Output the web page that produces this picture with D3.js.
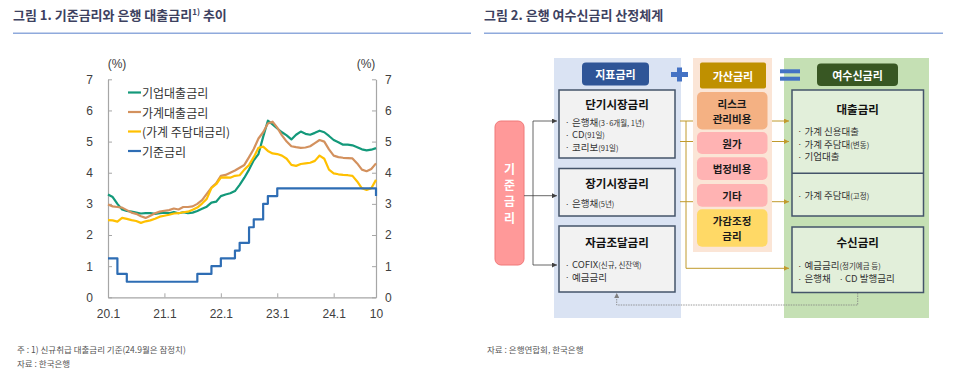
<!DOCTYPE html>
<html>
<head>
<meta charset="utf-8">
<script src="https://cdn.jsdelivr.net/npm/d3@7"></script>
<style>
  body { margin: 0; background: #fff; }
  svg text { font-family: "Noto Sans CJK KR", "Noto Sans", sans-serif; }
  .num { font-family: "Liberation Sans", Arial, sans-serif !important; }
</style>
</head>
<body>
<svg id="chart" width="960" height="379"></svg>
<script>
// ---- chart 1 data (monthly, 20.1 ~ 24.10) ----
const months = [
  '20.1','20.2','20.3','20.4','20.5','20.6','20.7','20.8','20.9','20.10','20.11','20.12',
  '21.1','21.2','21.3','21.4','21.5','21.6','21.7','21.8','21.9','21.10','21.11','21.12',
  '22.1','22.2','22.3','22.4','22.5','22.6','22.7','22.8','22.9','22.10','22.11','22.12',
  '23.1','23.2','23.3','23.4','23.5','23.6','23.7','23.8','23.9','23.10','23.11','23.12',
  '24.1','24.2','24.3','24.4','24.5','24.6','24.7','24.8','24.9','24.10'
];
const corpRate = [
  3.30, 3.22, 3.00, 2.82, 2.77, 2.75, 2.72, 2.69, 2.70, 2.70, 2.68, 2.70,
  2.72, 2.70, 2.74, 2.70, 2.73, 2.70, 2.72, 2.77, 2.84, 2.91, 3.04, 3.07,
  3.25, 3.30, 3.34, 3.41, 3.61, 3.84, 4.10, 4.40, 4.60, 5.15, 5.67, 5.55,
  5.42, 5.30, 5.20, 5.07, 5.22, 5.32, 5.25, 5.22, 5.28, 5.35, 5.30, 5.18,
  5.05, 4.98, 4.90, 4.90, 4.88, 4.82, 4.75, 4.72, 4.74, 4.79
];
const householdRate = [
  2.98, 2.92, 2.90, 2.88, 2.80, 2.72, 2.68, 2.60, 2.55, 2.62, 2.70, 2.75,
  2.78, 2.80, 2.85, 2.82, 2.90, 2.90, 2.92, 3.00, 3.12, 3.32, 3.52, 3.66,
  3.90, 3.93, 4.00, 4.07, 4.16, 4.25, 4.50, 4.76, 5.10, 5.30, 5.58, 5.64,
  5.45, 5.20, 5.00, 4.85, 4.82, 4.80, 4.81, 4.85, 4.95, 5.05, 5.00, 4.75,
  4.55, 4.50, 4.48, 4.47, 4.46, 4.30, 4.10, 4.05, 4.12, 4.30
];
const mortgageRate = [
  2.48, 2.47, 2.43, 2.55, 2.52, 2.48, 2.45, 2.39, 2.44, 2.47, 2.52, 2.59,
  2.62, 2.65, 2.69, 2.70, 2.73, 2.75, 2.81, 2.88, 3.01, 3.16, 3.51, 3.63,
  3.84, 3.85, 3.84, 3.90, 3.92, 4.10, 4.25, 4.50, 4.80, 4.84, 4.70, 4.62,
  4.60, 4.55, 4.45, 4.25, 4.22, 4.28, 4.30, 4.32, 4.38, 4.55, 4.45, 4.10,
  3.98, 3.95, 3.93, 3.92, 3.90, 3.72, 3.50, 3.45, 3.50, 3.77
];
const baseRate = [
  1.25, 1.25, 0.75, 0.75, 0.50, 0.50, 0.50, 0.50, 0.50, 0.50, 0.50, 0.50,
  0.50, 0.50, 0.50, 0.50, 0.50, 0.50, 0.50, 0.75, 0.75, 0.75, 1.00, 1.00,
  1.25, 1.25, 1.25, 1.50, 1.75, 1.75, 2.25, 2.50, 2.50, 3.00, 3.25, 3.25,
  3.50, 3.50, 3.50, 3.50, 3.50, 3.50, 3.50, 3.50, 3.50, 3.50, 3.50, 3.50,
  3.50, 3.50, 3.50, 3.50, 3.50, 3.50, 3.50, 3.50, 3.50, 3.25
];
const tickMonths = ['20.1','21.1','22.1','23.1','24.1','24.10'];
const tickLabels = ['20.1','21.1','22.1','23.1','24.1','10'];
const yTicks = [0, 1, 2, 3, 4, 5, 6, 7];
const seriesNames = ['기업대출금리', '가계대출금리', '(가계 주담대금리)', '기준금리'];
const seriesColors = ['#13997a', '#d3915e', '#ffc000', '#2e6db4'];

// ---- chart 2 texts ----
const indexRates = [
  { title: '단기시장금리', items: [['은행채', '(3·6개월, 1년)'], ['CD', '(91일)'], ['코리보', '(91일)']] },
  { title: '장기시장금리', items: [['은행채', '(5년)']] },
  { title: '자금조달금리', items: [['COFIX', '(신규, 신잔액)'], ['예금금리', '']] }
];
const spreadItems = [['리스크', '관리비용'], ['원가'], ['법정비용'], ['기타'], ['가감조정', '금리']];
const loanItems = [['가계 신용대출', ''], ['가계 주담대', '(변동)'], ['기업대출', '']];
const loanFixedItems = [['가계 주담대', '(고정)']];
const depositItems = [['예금금리', '(정기예금 등)']];

const svg = d3.select('#chart');

// ---- headings ----
const headings = [
  { x: 13, x2: 471, text: '그림 1. 기준금리와 은행 대출금리', sup: '1)', tail: ' 추이' },
  { x: 484, x2: 943, text: '그림 2. 은행 여수신금리 산정체계', sup: '', tail: '' }
];
headings.forEach(h => {
  const t = svg.append('text').attr('x', h.x).attr('y', 20)
    .style('font-size', '13px').style('font-weight', 'bold').style('fill', '#3d4160');
  t.append('tspan').text(h.text);
  if (h.sup) {
    t.append('tspan').attr('dy', -5).style('font-size', '8px').text(h.sup);
    t.append('tspan').attr('dy', 5).text(h.tail);
  }
  svg.append('line').attr('x1', h.x).attr('x2', h.x2).attr('y1', 33.3).attr('y2', 33.3)
    .attr('stroke', '#8faadc').attr('stroke-width', 1.5);
});

// ---- chart 1 ----
const x = d3.scalePoint().domain(months).range([108, 376]);
const y = d3.scaleLinear().domain([0, 7]).range([297.3, 79.3]);

const axisColor = '#a6a6a6';
function styleAxis(g) {
  g.selectAll('path, line').attr('stroke', axisColor);
  g.selectAll('text').attr('class', 'num').style('font-size', '12px').style('fill', '#404040');
}
svg.append('g').attr('transform', 'translate(108,0)')
  .call(d3.axisLeft(y).tickValues(yTicks).tickFormat(d3.format('d'))
    .tickSizeInner(-4).tickSizeOuter(0).tickPadding(15))
  .call(styleAxis);
svg.append('g').attr('transform', 'translate(376,0)')
  .call(d3.axisRight(y).tickValues(yTicks).tickFormat(d3.format('d'))
    .tickSizeInner(-4).tickSizeOuter(0).tickPadding(9))
  .call(styleAxis);
svg.append('g').attr('transform', 'translate(0,297.3)')
  .call(d3.axisBottom(x).tickValues(tickMonths).tickFormat((d, i) => tickLabels[i])
    .tickSizeInner(-4).tickSizeOuter(0).tickPadding(12))
  .call(styleAxis);
svg.selectAll('.domain').attr('stroke-width', 1.2);

svg.append('text').attr('class', 'num').attr('x', 117).attr('y', 68).attr('text-anchor', 'middle')
  .style('font-size', '12px').style('fill', '#404040').text('(%)');
svg.append('text').attr('class', 'num').attr('x', 366).attr('y', 68).attr('text-anchor', 'middle')
  .style('font-size', '12px').style('fill', '#404040').text('(%)');

const allSeries = [corpRate, householdRate, mortgageRate, baseRate];
allSeries.forEach((vals, s) => {
  const line = d3.line()
    .x((d, i) => x(months[i]))
    .y(d => y(d))
    .curve(s === 3 ? d3.curveStepAfter : d3.curveLinear);
  svg.append('path').datum(vals)
    .attr('fill', 'none')
    .attr('stroke', seriesColors[s])
    .attr('stroke-width', 2.2)
    .attr('stroke-linejoin', 'round')
    .attr('d', line);
});

const legend = svg.append('g').attr('transform', 'translate(128,92.5)');
seriesNames.forEach((name, i) => {
  const row = legend.append('g').attr('transform', `translate(0,${i * 19.5})`);
  row.append('line').attr('x1', 0).attr('x2', 13).attr('y1', 0).attr('y2', 0)
    .attr('stroke', seriesColors[i]).attr('stroke-width', 2.2);
  row.append('text').attr('x', 14).attr('y', 0).attr('dominant-baseline', 'central')
    .style('font-size', '12px').style('fill', '#333').text(name);
});

// ---- footnotes ----
const notes = [
  { x: 17, y: 349, text: '주 : 1) 신규취급 대출금리 기준(24.9월은 잠정치)' },
  { x: 17, y: 362.5, text: '자료 : 한국은행' },
  { x: 487, y: 349, text: '자료 : 은행연합회, 한국은행' }
];
notes.forEach(n => {
  svg.append('text').attr('x', n.x).attr('y', n.y).attr('dominant-baseline', 'central')
    .style('font-size', '8.5px').style('fill', '#555').text(n.text);
});

// ---- chart 2 ----
const defs = svg.append('defs');
function marker(id, color) {
  defs.append('marker').attr('id', id).attr('viewBox', '0 0 10 10')
    .attr('refX', 10).attr('refY', 5).attr('markerWidth', 5).attr('markerHeight', 5)
    .attr('markerUnits', 'userSpaceOnUse').attr('orient', 'auto')
    .append('path').attr('d', 'M0,0L10,5L0,10z').attr('fill', color);
}
marker('arrGray', '#404040');
marker('arrGold', '#c09a2c');
marker('arrDash', '#808080');

const g2 = svg.append('g');

// panels
g2.append('rect').attr('x', 554).attr('y', 58).attr('width', 127).attr('height', 260).attr('fill', '#dae3f3');
g2.append('rect').attr('x', 693).attr('y', 58).attr('width', 79).attr('height', 194).attr('fill', '#fbe5d6');
g2.append('rect').attr('x', 784).attr('y', 58).attr('width', 145).attr('height', 260).attr('fill', '#c5e0b4');

function header(xp, yp, w, h, fill, text, rx) {
  g2.append('rect').attr('x', xp).attr('y', yp).attr('width', w).attr('height', h)
    .attr('rx', rx).attr('fill', fill);
  g2.append('text').attr('x', xp + w / 2).attr('y', yp + h / 2).attr('text-anchor', 'middle')
    .attr('dominant-baseline', 'central').style('font-size', '11px').style('font-weight', 'bold')
    .style('fill', '#fff').text(text);
}
header(582, 62.5, 67, 23, '#2f5597', '지표금리', 4);
header(700, 62.5, 66, 26, '#bf9000', '가산금리', 2);
header(817, 63.5, 81, 22.5, '#385723', '여수신금리', 4);

// plus and equals
g2.append('rect').attr('x', 671).attr('y', 72).attr('width', 17).attr('height', 5).attr('fill', '#4472c4');
g2.append('rect').attr('x', 677).attr('y', 67.5).attr('width', 5).attr('height', 14).attr('fill', '#4472c4');
g2.append('rect').attr('x', 780).attr('y', 69.3).attr('width', 20).attr('height', 4).attr('fill', '#4472c4');
g2.append('rect').attr('x', 780).attr('y', 76.7).attr('width', 20).attr('height', 4).attr('fill', '#4472c4');

function bulletLine(xp, yp, item, tx) {
  g2.append('text').attr('x', xp).attr('y', yp).attr('dominant-baseline', 'central')
    .style('font-size', '8px').style('fill', '#333').text('·');
  const t = g2.append('text').attr('x', xp + (tx || 7)).attr('y', yp).attr('dominant-baseline', 'central')
    .style('fill', '#333');
  t.append('tspan').style('font-size', '9.5px').text(item[0]);
  if (item[1]) t.append('tspan').style('font-size', '7.5px').text(item[1]);
}

// 지표금리 boxes
const idxLayout = [
  { y: 90, h: 68, ty: 103.5, by: [121.5, 134.3, 146.7] },
  { y: 168.5, h: 47.5, ty: 182.7, by: [203.3] },
  { y: 226, h: 66, ty: 241.7, by: [264.3, 276.5] }
];
indexRates.forEach((b, i) => {
  const L = idxLayout[i];
  g2.append('rect').attr('x', 559).attr('y', L.y).attr('width', 116).attr('height', L.h)
    .attr('fill', '#f2f2f2').attr('stroke', '#44546a').attr('stroke-width', 1.5);
  g2.append('text').attr('x', 617).attr('y', L.ty).attr('text-anchor', 'middle')
    .attr('dominant-baseline', 'central').style('font-size', '11.5px').style('font-weight', 'bold')
    .style('fill', '#111').text(b.title);
  b.items.forEach((it, k) => bulletLine(565, L.by[k], it));
});

// 가산금리 items
const spreadLayout = [
  { y: 92, h: 37.5, fill: '#f4b183' },
  { y: 132, h: 22, fill: '#ffb3b3' },
  { y: 157.3, h: 22.7, fill: '#ffb3b3' },
  { y: 184, h: 22.7, fill: '#ffb3b3' },
  { y: 209.3, h: 37.4, fill: '#ffd966' }
];
spreadItems.forEach((lines, i) => {
  const L = spreadLayout[i];
  g2.append('rect').attr('x', 697).attr('y', L.y).attr('width', 70.5).attr('height', L.h)
    .attr('rx', 5).attr('fill', L.fill);
  const cy = L.y + L.h / 2;
  lines.forEach((ln, k) => {
    g2.append('text').attr('x', 732).attr('y', cy + (k - (lines.length - 1) / 2) * 14.5)
      .attr('text-anchor', 'middle').attr('dominant-baseline', 'central')
      .style('font-size', '10.5px').style('font-weight', 'bold').style('fill', '#1a1a1a').text(ln);
  });
});

// 여수신금리 boxes
g2.append('rect').attr('x', 792).attr('y', 90).attr('width', 131.5).attr('height', 126)
  .attr('fill', '#e2efda').attr('stroke', '#44546a').attr('stroke-width', 1.5);
g2.append('line').attr('x1', 792).attr('x2', 923.5).attr('y1', 173.3).attr('y2', 173.3)
  .attr('stroke', '#44546a').attr('stroke-width', 1.5);
g2.append('rect').attr('x', 792).attr('y', 227).attr('width', 131.5).attr('height', 65.5)
  .attr('fill', '#e2efda').attr('stroke', '#44546a').attr('stroke-width', 1.5);
g2.append('text').attr('x', 857.7).attr('y', 108.5).attr('text-anchor', 'middle')
  .attr('dominant-baseline', 'central').style('font-size', '11.5px').style('font-weight', 'bold')
  .style('fill', '#111').text('대출금리');
g2.append('text').attr('x', 857.7).attr('y', 241.7).attr('text-anchor', 'middle')
  .attr('dominant-baseline', 'central').style('font-size', '11.5px').style('font-weight', 'bold')
  .style('fill', '#111').text('수신금리');
[130.7, 143.8, 156].forEach((yy, k) => bulletLine(797.5, yy, loanItems[k]));
bulletLine(797.5, 195, loanFixedItems[0]);
bulletLine(797.5, 265, depositItems[0]);
bulletLine(797.5, 278.3, ['은행채', '']);
bulletLine(839, 278.3, ['CD 발행금리', ''], 6);

// 기준금리 box
g2.append('rect').attr('x', 495).attr('y', 121).attr('width', 29).attr('height', 144)
  .attr('rx', 6).attr('fill', '#ff9999').attr('stroke', '#f07878').attr('stroke-width', 1);
['기', '준', '금', '리'].forEach((c, k) => {
  g2.append('text').attr('x', 509.5).attr('y', 168.5 + k * 16.2).attr('text-anchor', 'middle')
    .attr('dominant-baseline', 'central').style('font-size', '12px').style('font-weight', 'bold')
    .style('fill', '#fff').text(c);
});

// gray connectors
const gray = '#404040';
g2.append('path').attr('d', 'M533,121V265').attr('fill', 'none').attr('stroke', gray).attr('stroke-width', 0.8);
['M533,121H557', 'M524,195.7H557', 'M533,265H557'].forEach(d => {
  g2.append('path').attr('d', d).attr('fill', 'none').attr('stroke', gray).attr('stroke-width', 0.8)
    .attr('marker-end', 'url(#arrGray)');
});

// gold connectors
const gold = '#c09a2c';
['M680,121H693', 'M680,141.5H693', 'M680,201.7H693', 'M686,121V268.3'].forEach(d => {
  g2.append('path').attr('d', d).attr('fill', 'none').attr('stroke', gold).attr('stroke-width', 1);
});
['M686,268.3H789', 'M772,121H789', 'M772,141.5H789', 'M772,201.7H789'].forEach(d => {
  g2.append('path').attr('d', d).attr('fill', 'none').attr('stroke', gold).attr('stroke-width', 1)
    .attr('marker-end', 'url(#arrGold)');
});

// dashed feedback
g2.append('path').attr('d', 'M857.7,293V305H616.7V293').attr('fill', 'none')
  .attr('stroke', '#808080').attr('stroke-width', 0.8).attr('stroke-dasharray', '1.5,1')
  .attr('marker-end', 'url(#arrDash)');
</script>
</body>
</html>
